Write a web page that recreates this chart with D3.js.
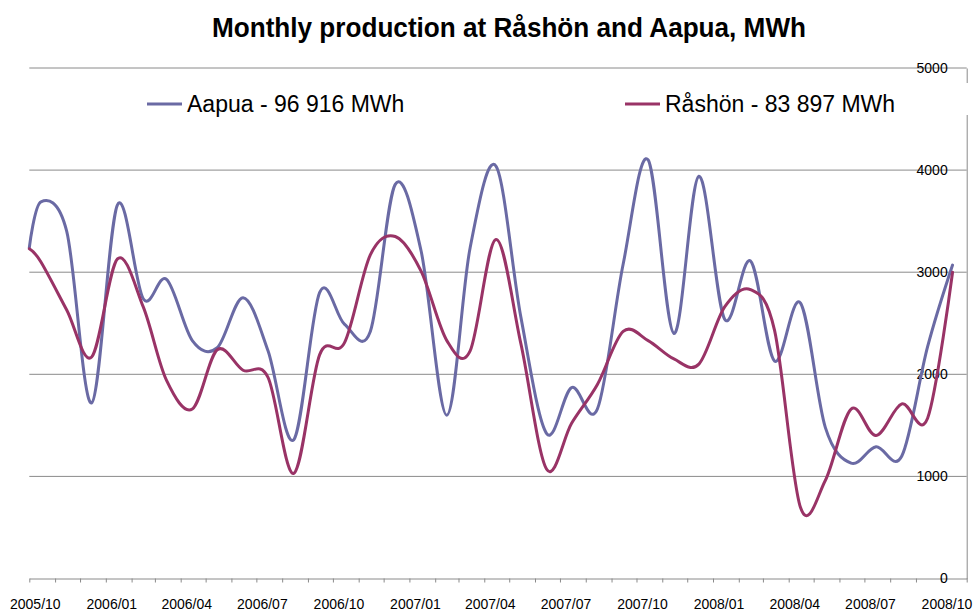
<!DOCTYPE html>
<html>
<head>
<meta charset="utf-8">
<script src="https://cdn.jsdelivr.net/npm/d3@7"></script>
<style>
  html, body { margin: 0; padding: 0; background: #fff; }
  svg { display: block; font-family: "Liberation Sans", Arial, sans-serif; }
</style>
</head>
<body>
<svg id="chart" width="976" height="610"></svg>
<script>
// Reading dates: opening reading, then one value per month
const dates = [
  "2005-10-01", "2005-10-15", "2005-11-15", "2005-12-15",
  "2006-01-15", "2006-02-15", "2006-03-15", "2006-04-15", "2006-05-15", "2006-06-15",
  "2006-07-15", "2006-08-15", "2006-09-15", "2006-10-15", "2006-11-15", "2006-12-15",
  "2007-01-15", "2007-02-15", "2007-03-15", "2007-04-15", "2007-05-15", "2007-06-15",
  "2007-07-15", "2007-08-15", "2007-09-15", "2007-10-15", "2007-11-15", "2007-12-15",
  "2008-01-15", "2008-02-15", "2008-03-15", "2008-04-15", "2008-05-15", "2008-06-15",
  "2008-07-15", "2008-08-15", "2008-09-15", "2008-10-15"
];

// Monthly production, MWh
const aapua = [3240, 3690, 3400, 1720, 3660, 2740, 2930, 2330, 2260, 2750, 2230, 1360, 2800,
  2490, 2420, 3860, 3210, 1600, 3240, 4040, 2560, 1420, 1870, 1660, 3080, 4100, 2400, 3940,
  2540, 3110, 2130, 2700, 1480, 1130, 1290, 1200, 2270, 3070];
const rashon = [3230, 3100, 2630, 2170, 3130, 2660, 1940, 1660, 2240, 2040, 1970, 1030, 2190,
  2310, 3170, 3350, 3010, 2330, 2230, 3320, 2300, 1070, 1520, 1900, 2420, 2330, 2150, 2100,
  2660, 2830, 2430, 700, 960, 1660, 1400, 1710, 1570, 3000];

const seriesNames = ["Aapua - 96 916 MWh", "Råshön - 83 897 MWh"];
const seriesColors = ["#6a6aa4", "#993366"];
const yTicks = [0, 1000, 2000, 3000, 4000, 5000];
const axisStart = "2005-10-01";
const axisEnd = "2008-11-01";
const titleText = "Monthly production at Råshön and Aapua, MWh";

const svg = d3.select("#chart");
const parse = d3.utcParse("%Y-%m-%d");

const x = d3.scaleUtc()
  .domain([parse(axisStart), parse(axisEnd)])
  .range([29.3, 966.7]);
const y = d3.scaleLinear().domain([0, 5000]).range([578.5, 68]);

// Title
svg.append("text")
  .attr("x", 509).attr("y", 37)
  .attr("text-anchor", "middle")
  .attr("font-size", 27).attr("font-weight", "bold")
  .attr("textLength", 594).attr("lengthAdjust", "spacingAndGlyphs")
  .attr("fill", "#000")
  .text(titleText);

// Horizontal gridlines
svg.append("g").selectAll("line")
  .data(yTicks.filter(d => d > 0))
  .join("line")
  .attr("x1", x.range()[0]).attr("x2", x.range()[1])
  .attr("y1", d => y(d)).attr("y2", d => y(d))
  .attr("stroke", "#8a8a8a").attr("stroke-width", 1);

// Bottom axis: monthly ticks, labels every third month
const monthTicks = d3.utcMonth.range(parse(axisStart), d3.utcDay.offset(parse(axisEnd), 1));
const fmt = d3.utcFormat("%Y/%m");
const xAxis = svg.append("g")
  .attr("transform", `translate(0,${y(0)})`)
  .call(d3.axisBottom(x)
    .tickValues(monthTicks)
    .tickSize(4)
    .tickSizeOuter(0)
    .tickFormat(d => (d.getUTCMonth() % 3 === 0 && d < parse(axisEnd)) ? fmt(d) : ""));
xAxis.select(".domain").attr("stroke", "#8a8a8a");
xAxis.selectAll(".tick line").attr("stroke", "#8a8a8a");
xAxis.selectAll(".tick text")
  .attr("font-family", "Liberation Sans, Arial, sans-serif")
  .attr("font-size", 14).attr("fill", "#000")
  .attr("dy", 0).attr("y", 30).attr("dx", 5.5);

// Right-hand value axis, labels inside the plot
const yAxis = svg.append("g")
  .attr("transform", `translate(${x.range()[1]},0)`)
  .call(d3.axisLeft(y).tickValues(yTicks).tickSize(0).tickPadding(19).tickFormat(d3.format("d")));
yAxis.select(".domain").attr("stroke", "#8a8a8a");
yAxis.selectAll(".tick text")
  .attr("font-family", "Liberation Sans, Arial, sans-serif")
  .attr("font-size", 14).attr("fill", "#000");

// Smoothed production lines
const line = d3.line()
  .x((d, i) => x(parse(dates[i])))
  .y(d => y(d))
  .curve(d3.curveCardinal.tension(0));

[aapua, rashon].forEach((vals, k) => {
  svg.append("path")
    .datum(vals)
    .attr("d", line)
    .attr("fill", "none")
    .attr("stroke", seriesColors[k])
    .attr("stroke-width", 3)
    .attr("stroke-linejoin", "round")
    .attr("stroke-linecap", "round");
});

// Legend on a white band across the top of the plot
const legend = svg.append("g");
legend.append("rect")
  .attr("x", 130).attr("y", 83).attr("width", 845).attr("height", 32)
  .attr("fill", "#fff");
const legendX = [147, 625];
seriesNames.forEach((name, k) => {
  legend.append("line")
    .attr("x1", legendX[k]).attr("x2", legendX[k] + 35)
    .attr("y1", 104).attr("y2", 104)
    .attr("stroke", seriesColors[k]).attr("stroke-width", 3);
  legend.append("text")
    .attr("x", legendX[k] + 40).attr("y", 112)
    .attr("font-size", 23).attr("fill", "#000")
    .text(name);
});
</script>
</body>
</html>
